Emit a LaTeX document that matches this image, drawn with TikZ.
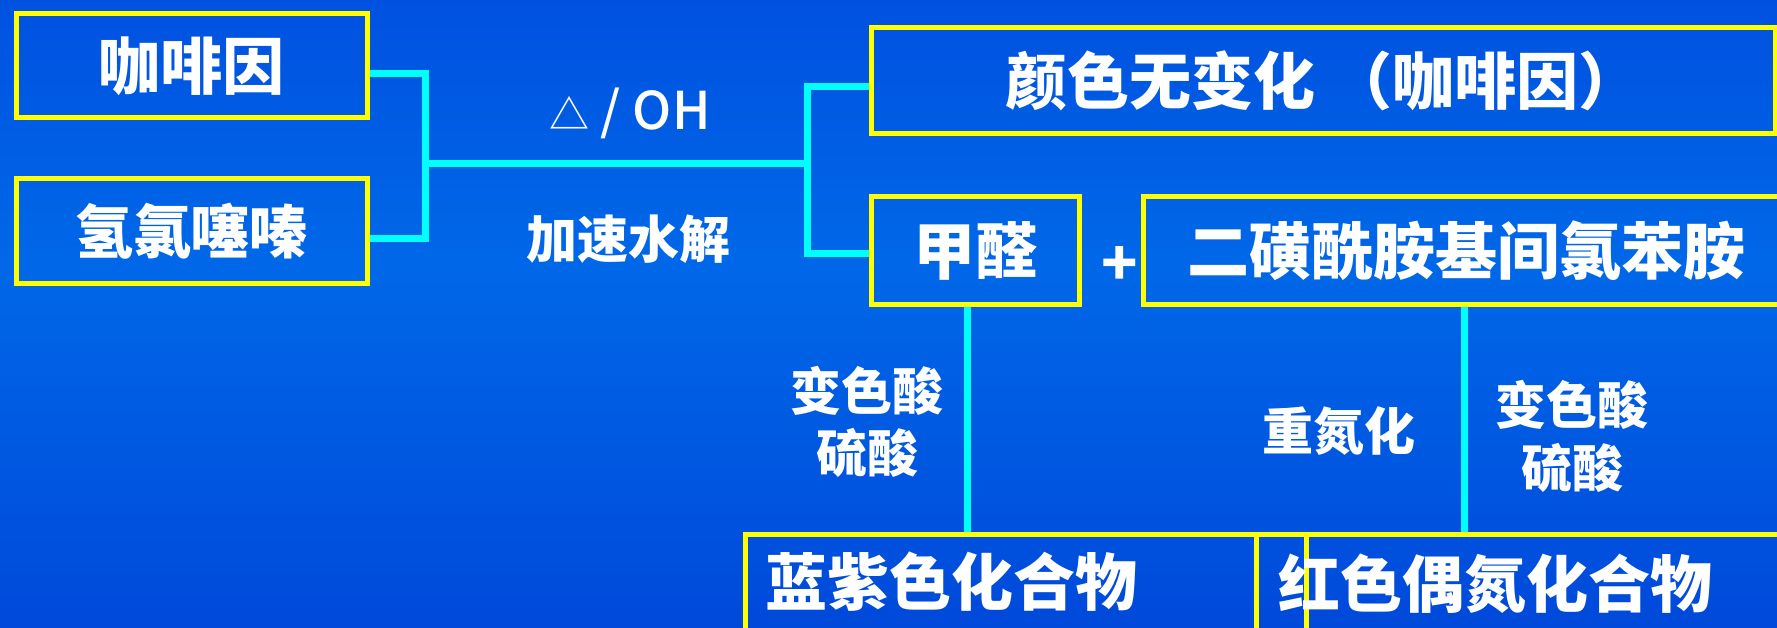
\documentclass[tikz,border=0pt]{standalone}
\usepackage{fontspec}
\setmainfont{Noto Sans CJK SC}[BoldFont={Noto Sans CJK SC Black}]
\newfontfamily\condfont{Noto Sans CJK SC Medium}
\usetikzlibrary{calc}
\definecolor{bgtop}{RGB}{0,54,214}
\definecolor{bgmid}{RGB}{0,104,232}
\definecolor{bgbot}{RGB}{0,46,206}
\definecolor{ybox}{RGB}{255,255,0}
\definecolor{cline}{RGB}{0,255,255}
\pgfdeclareverticalshading{bgshade}{100bp}{color(0bp)=(bgbot); color(54bp)=(bgmid); color(100bp)=(bgtop)}
\begin{document}
\begin{tikzpicture}[x=1pt,y=-1pt,
  box/.style={draw=ybox, line width=5pt, inner sep=0pt, text=white, font=\bfseries\fontsize{62}{62}\selectfont},
  boxtext/.style={text=white, inner sep=0pt, font=\bfseries\fontsize{62}{62}\selectfont},
  lbl/.style={text=white, inner sep=0pt, font=\bfseries\fontsize{51}{51}\selectfont},
  conn/.style={draw=cline, line width=7pt, line join=miter, line cap=butt}]
\useasboundingbox (0,0) rectangle (1777,628);
\shade[shading=bgshade] (0,0) rectangle (1777,628);

% boxes
\node[box, minimum width=351pt, minimum height=104pt] (caf) at (191.5,66) {咖啡因};
\node[box, minimum width=351pt, minimum height=105pt] (hct) at (191.5,231.5) {\fontsize{58}{58}\selectfont 氢氯噻嗪};
\node[box, minimum width=904pt, minimum height=106pt] (nochg) at (1323,81) {颜色无变化 （咖啡因）};
\node[box, minimum width=208pt, minimum height=107pt] (hcho) at (975,250.5) {甲醛};
\node[box, minimum width=647pt, minimum height=107pt] (amine) at (1466.5,250.5) {二磺酰胺基间氯苯胺};
\node[box, minimum width=561pt, minimum height=116pt] (blue) at (1025.5,592) {};
\node[box, minimum width=534pt, minimum height=116pt] (red) at (1523,592) {};
\node[boxtext, anchor=west] (bluetxt) at (765,582) {蓝紫色化合物};
\node[boxtext, anchor=west] (redtxt) at (1278,584) {红色偶氮化合物};
\node[lbl, font=\bfseries\fontsize{60}{60}\selectfont] (plus) at (1120,266) {+};

% connectors
\coordinate (jl) at (425.5,164);
\coordinate (jr) at (807,164);
\draw[conn] (caf.east |- 0,74) -| (jl) |- (hct.east |- 0,239);
\draw[conn] (jl) -- (jr);
\draw[conn] (nochg.west |- 0,87) -| (jr) |- (hcho.west |- 0,254);
\draw[conn] (hcho.south -| 967,0) -- (blue.north -| 967,0);
\draw[conn] (amine.south -| 1464,0) -- (red.north -| 1464,0);

% labels
\node[lbl, font=\condfont\fontsize{52}{52}\selectfont] (cond) at (630,113) {{\fontsize{40}{40}\selectfont △} / OH};
\node[lbl] (accel) at (628,239) {加速水解};
\node[lbl] (cta1) at (867,391) {变色酸};
\node[lbl] (sa1) at (867,453) {硫酸};
\node[lbl] (diazo) at (1339,431) {重氮化};
\node[lbl] (cta2) at (1572,405) {变色酸};
\node[lbl] (sa2) at (1572,468) {硫酸};
\end{tikzpicture}
\end{document}
